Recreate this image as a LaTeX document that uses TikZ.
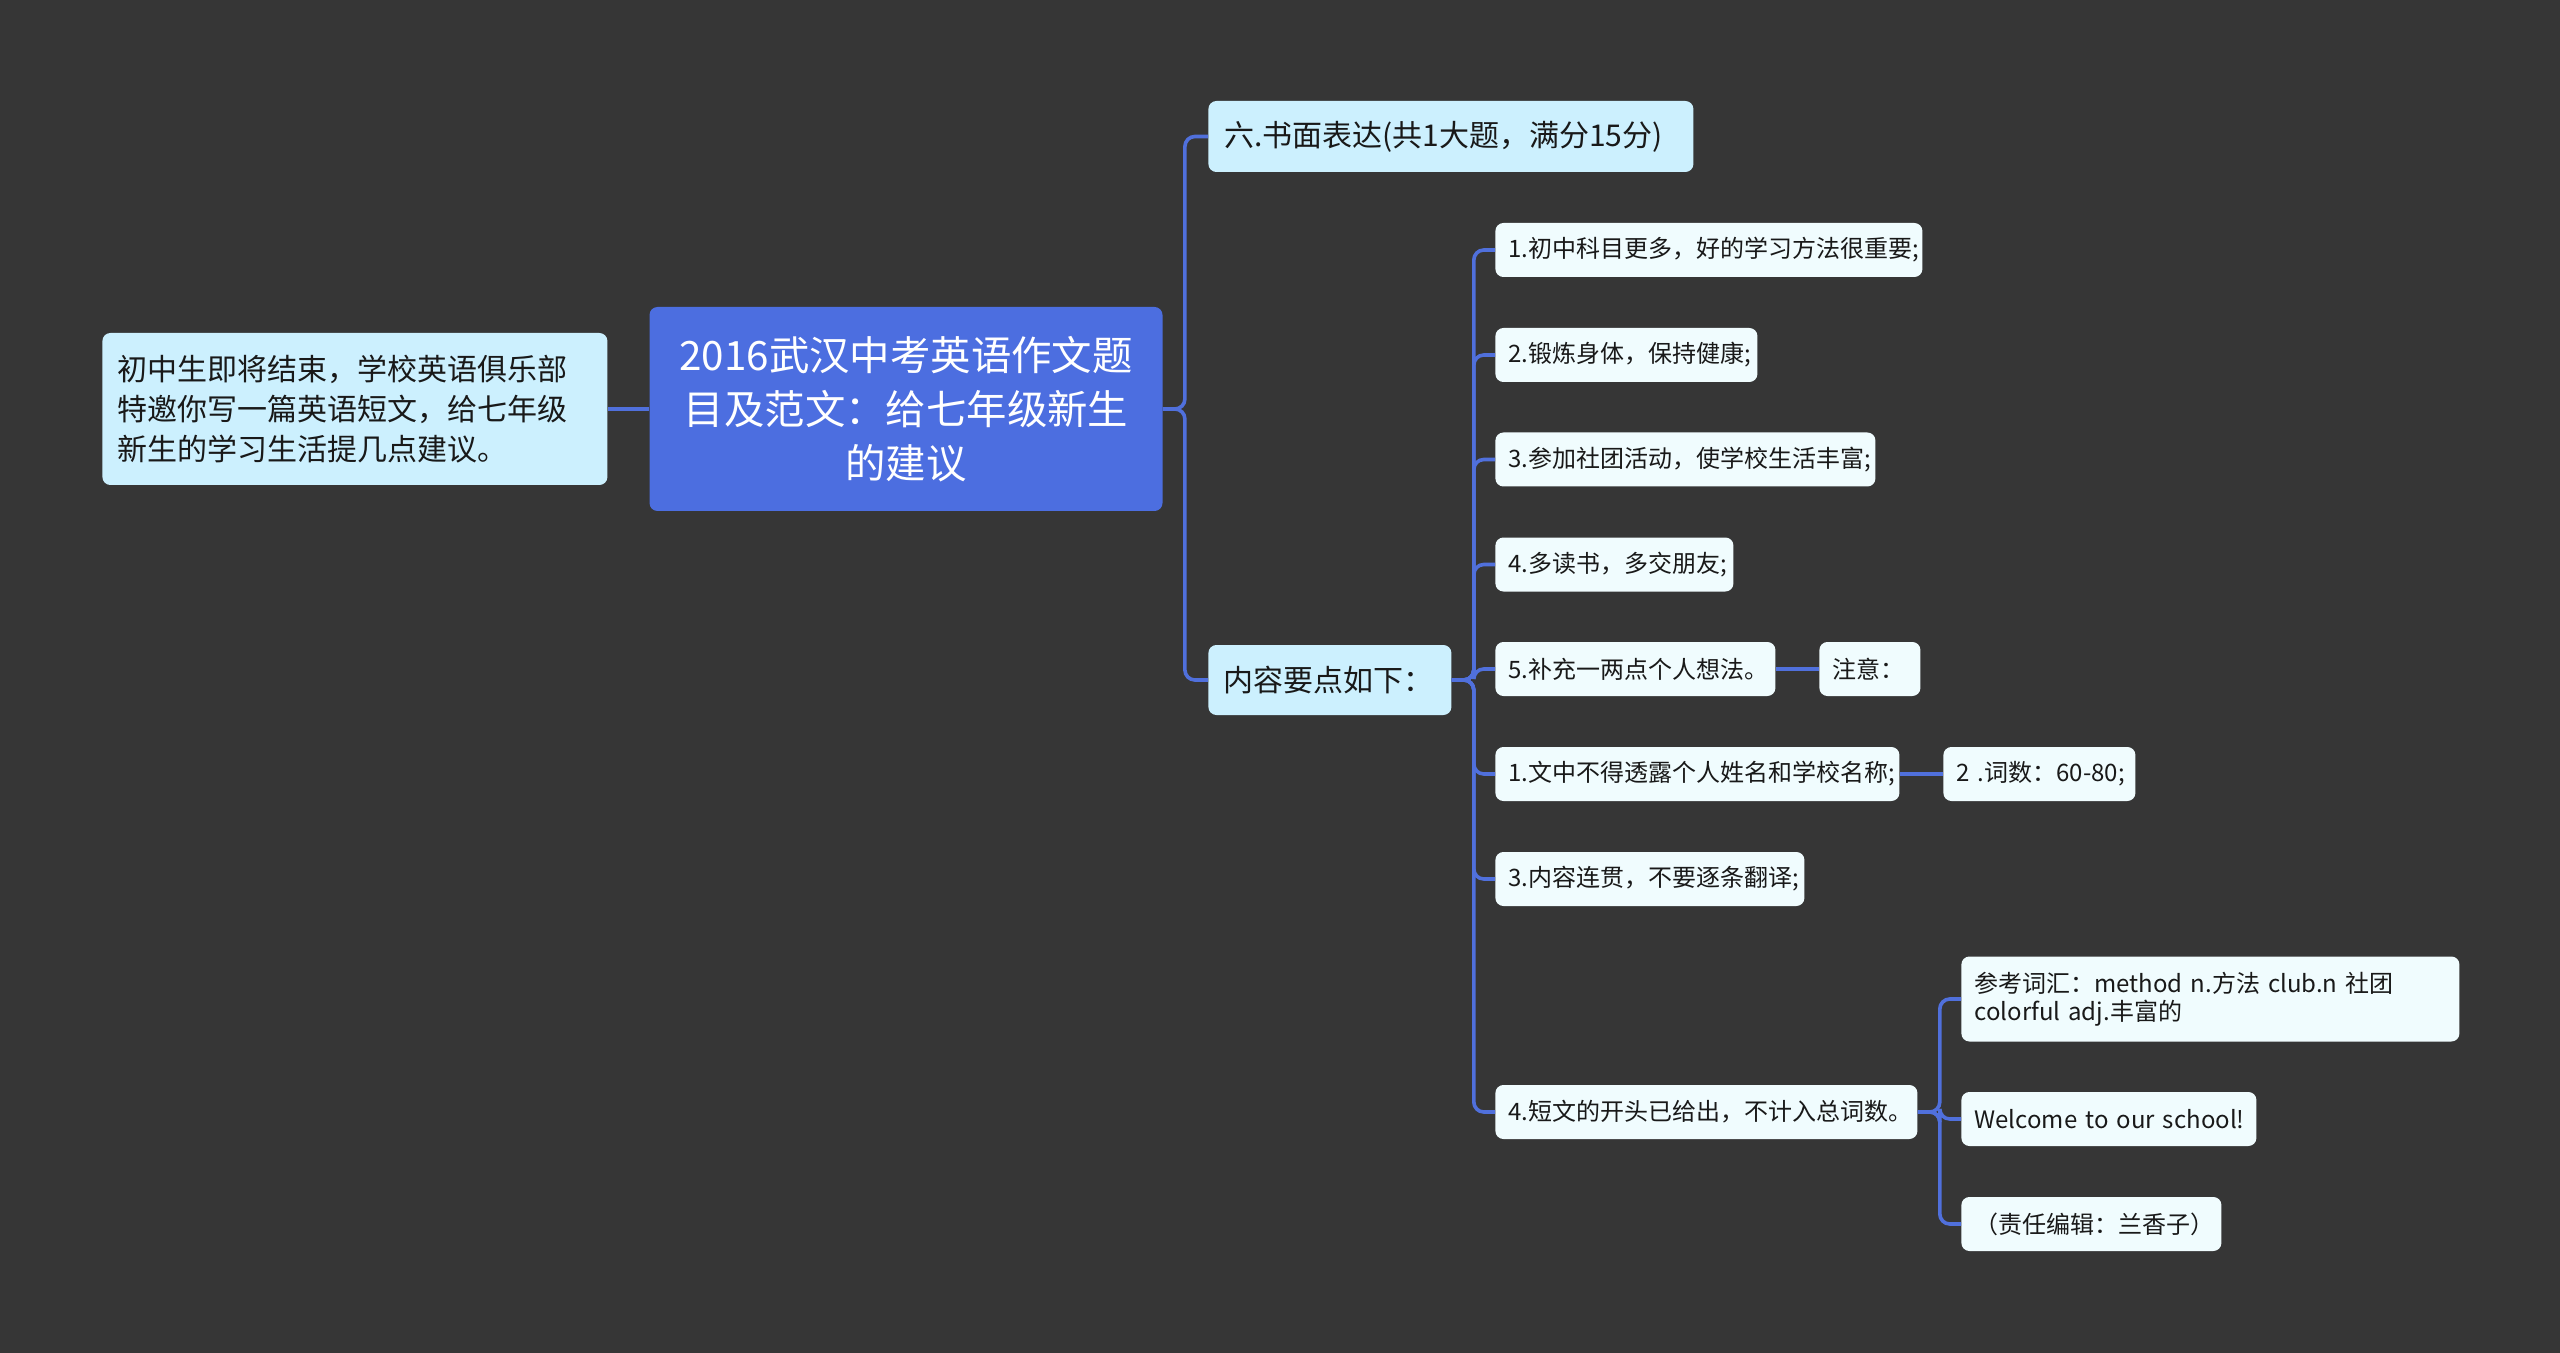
\documentclass[tikz,border=0pt]{standalone}
\usepackage{fontspec}
\setmainfont{Noto Sans CJK SC}
\definecolor{bg}{HTML}{363636}
\definecolor{linec}{HTML}{5070DC}
\definecolor{mainfill}{HTML}{4C6EE0}
\definecolor{lvfill}{HTML}{CCF0FE}
\definecolor{chfill}{HTML}{F0FCFE}
\tikzset{
  basebox/.style={rounded corners=4pt, inner ysep=0pt, align=left, text=black!90},
  lvbox/.style={basebox, fill=lvfill, inner xsep=7.5pt, anchor=west,
     font=\fontsize{15}{20.2}\selectfont},
  chbox/.style={basebox, fill=chfill, inner xsep=6.5pt, anchor=west, minimum height=27pt,
     font=\fontsize{12}{14}\selectfont},
  rootbox/.style={rounded corners=4pt, fill=mainfill, text=white, align=center,
     inner xsep=0pt, inner ysep=0pt, font=\fontsize{20.2}{27}\selectfont},
  conn/.style={draw=linec, line width=1.8pt, rounded corners=5pt},
}
\begin{document}
\begin{tikzpicture}[x=0.5pt, y=-0.5pt]
\fill[bg] (0,0) rectangle (2560,1353);
\useasboundingbox (0,0) rectangle (2560,1353);

% root and left
\node[rootbox, minimum width=256.5pt, minimum height=102pt, text width=250pt] (root) at (906,409)
  {2016武汉中考英语作文题\\目及范文：给七年级新生\\的建议};
\node[lvbox, text width=237.5pt, minimum height=76pt] (intro) at (102,409)
  {初中生即将结束，学校英语俱乐部\\特邀你写一篇英语短文，给七年级\\新生的学习生活提几点建议。};

% level 1
\node[lvbox, inner xsep=7.8pt, text width=226.9pt, minimum height=35.5pt] (six) at (1208,136.5)
  {六.书面表达(共1大题，满分15分)};
\node[lvbox, text width=106.5pt, minimum height=35pt] (cont) at (1208,680)
  {内容要点如下：};

% children
\node[chbox, text width=200.5pt] (c1) at (1495,250) {1.初中科目更多，好的学习方法很重要;};
\node[chbox, text width=118pt] (c2) at (1495,355) {2.锻炼身体，保持健康;};
\node[chbox, text width=177pt] (c3) at (1495,459.5) {3.参加社团活动，使学校生活丰富;};
\node[chbox, text width=106pt] (c4) at (1495,564.5) {4.多读书，多交朋友;};
\node[chbox, text width=127pt] (c5) at (1495,669) {5.补充一两点个人想法。};
\node[chbox, text width=37.5pt] (note) at (1819,669) {注意：};
\node[chbox, text width=189pt] (c6) at (1495,774) {1.文中不得透露个人姓名和学校名称;};
\node[chbox, text width=83pt] (words) at (1943,774) {\mbox{2 .词数：60-80;}};
\node[chbox, text width=141.5pt] (c7) at (1495,879) {3.内容连贯，不要逐条翻译;};
\node[chbox, text width=198pt] (c8) at (1495,1112) {4.短文的开头已给出，不计入总词数。};

\node[chbox, text width=236pt, minimum height=42.5pt] (vocab) at (1961,999)
  {参考词汇：method n.方法 club.n 社团\\colorful adj.丰富的};
\node[chbox, text width=134.5pt] (welc) at (1961,1119) {\mbox{Welcome to our school!}};
\node[chbox, text width=117pt] (edit) at (1961,1224) {（责任编辑：兰香子）};

% connectors
\draw[conn] (intro.east) -- (root.west);
\draw[conn] (root.east) -- ++(22,0) |- (six.west);
\draw[conn] (root.east) -- ++(22,0) |- (cont.west);
\foreach \c in {c1,c2,c3,c4,c5,c6,c7,c8}
  \draw[conn] (cont.east) -- ++(22,0) |- (\c.west);
\draw[conn] (c5.east) -- (note.west);
\draw[conn] (c6.east) -- (words.west);
\foreach \c in {vocab,welc,edit}
  \draw[conn] (c8.east) -- ++(22,0) |- (\c.west);
\end{tikzpicture}
\end{document}
